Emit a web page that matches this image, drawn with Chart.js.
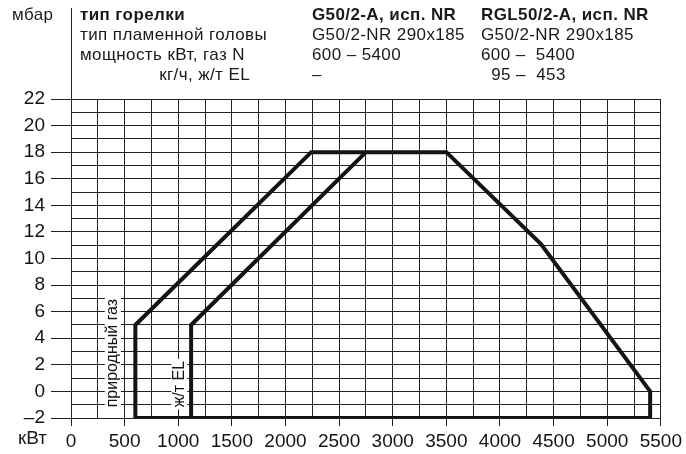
<!DOCTYPE html>
<html>
<head>
<meta charset="utf-8">
<script src="https://cdn.jsdelivr.net/npm/chart.js@4/dist/chart.umd.min.js"></script>
<style>
  html, body { margin: 0; padding: 0; background: #fff; }
  #wrap { position: relative; width: 686px; height: 454px; font-family: "Liberation Sans", Arial, sans-serif; color: #1a1a1a; }
  #wrap canvas { position: absolute; left: 0; top: 0; }
  .hd { position: absolute; font-size: 17px; letter-spacing: 0.4px; line-height: 20px; white-space: nowrap; }
  .hd div { white-space: pre; }
  .b { font-weight: bold; }
</style>
</head>
<body>
<div id="wrap">
  <canvas id="myChart" width="686" height="454"></canvas>
  <div class="hd" style="left:12px; top:5px;"><div>мбар</div></div>
  <div class="hd" style="left:80px; top:5px;">
    <div class="b">тип горелки</div>
    <div>тип пламенной головы</div>
    <div>мощность кВт, газ N</div>
  </div>
  <div class="hd" style="right:436px; top:65px; text-align:right;"><div>кг/ч, ж/т EL</div></div>
  <div class="hd" style="left:312px; top:5px;">
    <div class="b">G50/2-A, исп. NR</div>
    <div>G50/2-NR 290x185</div>
    <div>600 – 5400</div>
    <div>–</div>
  </div>
  <div class="hd" style="left:481px; top:5px;">
    <div class="b">RGL50/2-A, исп. NR</div>
    <div>G50/2-NR 290x185</div>
    <div>600 –  5400</div>
    <div>  95 –  453</div>
  </div>
  <div class="hd" style="left:18px; top:428px; font-size:19px; letter-spacing:0;"><div>кВт</div></div>
</div>
<script>
// рабочее поле горелки, газ N
const gasKw   = [600, 600, 2240, 3500, 4380, 5400, 5400, 600];
const gasMbar = [-2, 5, 18, 18, 11.1, 0, -2, -2];
// ж/т EL, левая граница
const oilKw   = [1120, 1120, 2750];
const oilMbar = [-2, 5, 18];

const xLabels = [0, 500, 1000, 1500, 2000, 2500, 3000, 3500, 4000, 4500, 5000, 5500];
const yLabels = [-2, 0, 2, 4, 6, 8, 10, 12, 14, 16, 18, 20, 22];
const fieldLabels = ['природный газ', 'ж/т EL'];

const ink = '#141414';
const gridInk = '#222';
const font = '"Liberation Sans", Arial, sans-serif';

function toPoints(xs, ys) {
    return xs.map(function(x, i) { return { x: x, y: ys[i] }; });
}

// vertical labels inside the plot + the axis line going up into the header
const extras = {
    id: 'extras',
    beforeDatasetsDraw(chart) {
        const ctx = chart.ctx;
        const xs = chart.scales.x, ys = chart.scales.y;
        const spots = [[390, -1.2], [1010, -1.2]];
        ctx.save();
        ctx.font = '16px ' + font;
        fieldLabels.forEach(function(txt, i) {
            const px = xs.getPixelForValue(spots[i][0]);
            const py = ys.getPixelForValue(spots[i][1]);
            const w = ctx.measureText(txt).width;
            ctx.save();
            ctx.translate(px, py);
            ctx.rotate(-Math.PI / 2);
            ctx.fillStyle = '#fff';
            ctx.fillRect(-2, -8, w + 4, 16);
            ctx.fillStyle = ink;
            ctx.textBaseline = 'middle';
            ctx.fillText(txt, 0, 0);
            ctx.restore();
        });
        ctx.restore();
    },
    afterDraw(chart) {
        const ctx = chart.ctx;
        const x = Math.round(chart.chartArea.left) + 0.5;
        ctx.save();
        ctx.strokeStyle = gridInk;
        ctx.lineWidth = 1;
        ctx.beginPath();
        ctx.moveTo(x, 8);
        ctx.lineTo(x, chart.chartArea.top);
        ctx.stroke();
        ctx.restore();
    }
};

new Chart(document.getElementById('myChart'), {
    type: 'scatter',
    data: {
        datasets: [
            {
                data: toPoints(gasKw, gasMbar),
                showLine: true,
                borderColor: ink,
                borderWidth: 4,
                borderJoinStyle: 'miter',
                pointRadius: 0,
                fill: false
            },
            {
                data: toPoints(oilKw, oilMbar),
                showLine: true,
                borderColor: ink,
                borderWidth: 4,
                borderJoinStyle: 'miter',
                pointRadius: 0,
                fill: false
            }
        ]
    },
    options: {
        responsive: false,
        animation: false,
        devicePixelRatio: 1,
        layout: { padding: { top: 99, right: 25, left: 0, bottom: 0 } },
        plugins: { legend: { display: false }, tooltip: { enabled: false } },
        scales: {
            x: {
                type: 'linear',
                min: 0,
                max: 5500,
                afterFit: function(scale) { scale.height = 36; },
                ticks: {
                    stepSize: 250,
                    maxTicksLimit: 100,
                    autoSkip: false,
                    maxRotation: 0,
                    padding: 4,
                    color: ink,
                    font: { family: font, size: 19 },
                    callback: function(v) { return xLabels.includes(v) ? String(v) : ''; }
                },
                grid: {
                    color: gridInk,
                    lineWidth: 1,
                    tickLength: 8,
                    tickColor: function(c) {
                        return c.tick && xLabels.includes(c.tick.value) ? gridInk : 'rgba(0,0,0,0)';
                    }
                },
                border: { color: gridInk, width: 1 }
            },
            y: {
                min: -2,
                max: 22,
                afterFit: function(scale) { scale.width = 71; },
                ticks: {
                    stepSize: 1,
                    maxTicksLimit: 100,
                    autoSkip: false,
                    padding: 6,
                    color: ink,
                    font: { family: font, size: 19 },
                    callback: function(v) {
                        if (!yLabels.includes(v)) return '';
                        return v < 0 ? '–' + Math.abs(v) : String(v);
                    }
                },
                grid: {
                    color: gridInk,
                    lineWidth: 1,
                    tickLength: 20,
                    tickColor: function(c) {
                        return c.tick && yLabels.includes(c.tick.value) ? gridInk : 'rgba(0,0,0,0)';
                    }
                },
                border: { color: gridInk, width: 1 }
            }
        }
    },
    plugins: [extras]
});
</script>
</body>
</html>
